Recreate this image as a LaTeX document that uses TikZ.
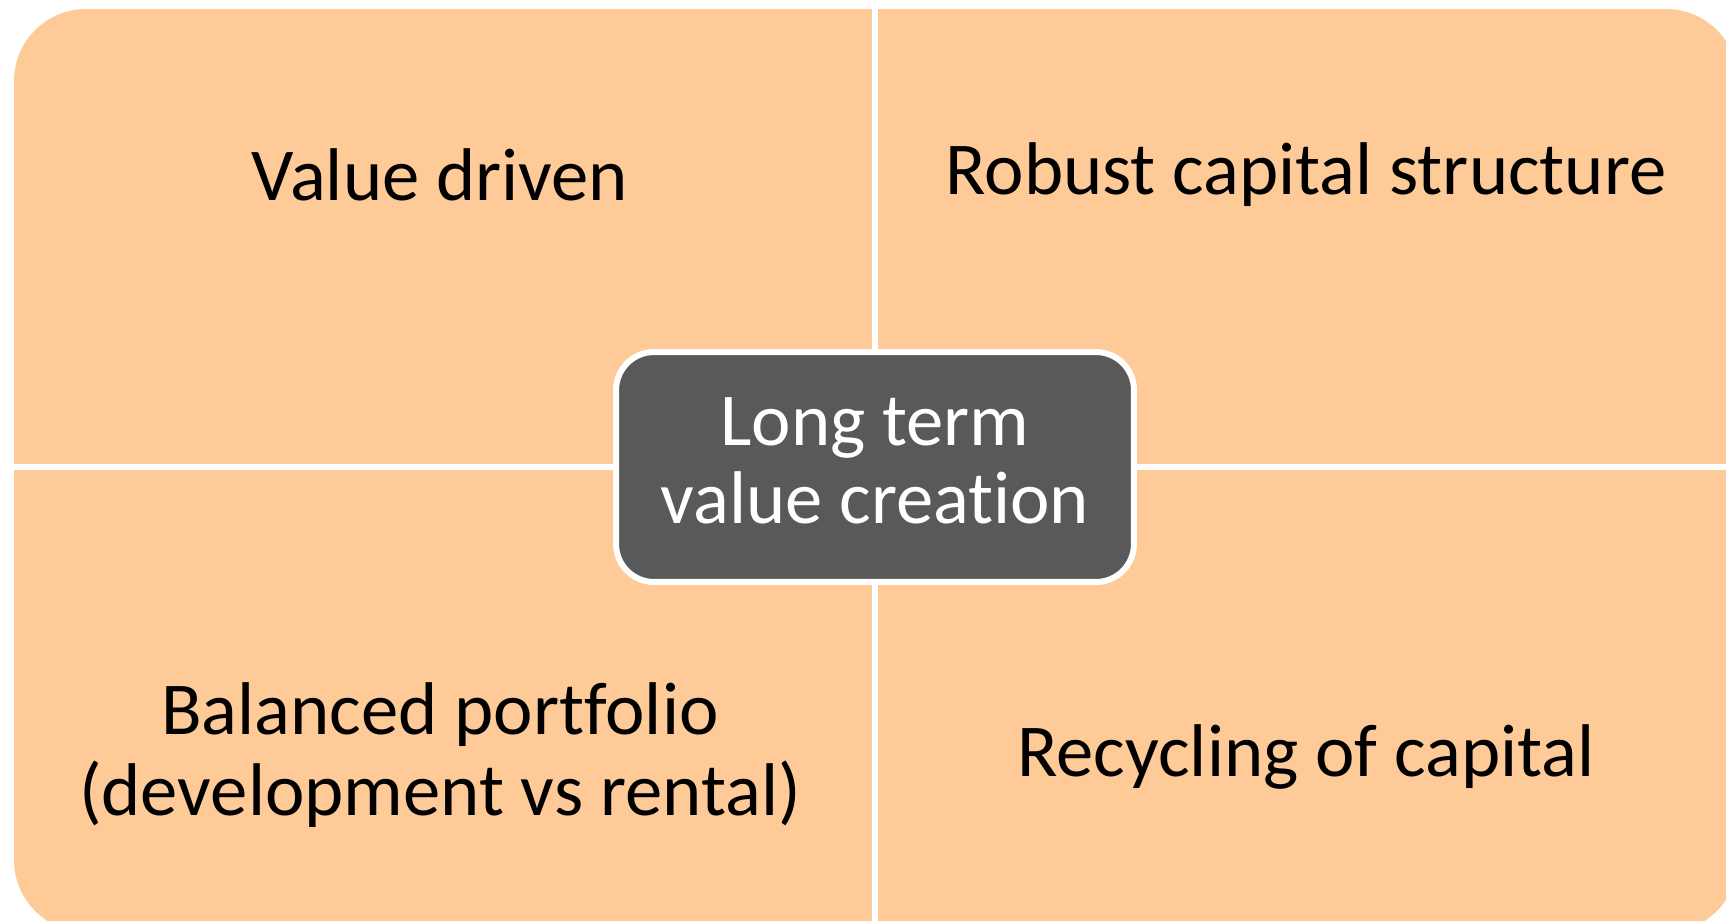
\documentclass[tikz,border=0pt]{standalone}
\usepackage{fontspec}
\setmainfont{Carlito}[Ligatures=CommonOff]
\usetikzlibrary{positioning}

\definecolor{peach}{HTML}{FDCA98}
\definecolor{hubgray}{HTML}{595959}

\begin{document}
\begin{tikzpicture}[
			x=0.02cm, y=-0.02cm,
			quad/.style={
				fill=peach
			},
			divider/.style={
				draw=white,
				line width=0.115cm
			},
			label/.style={
				align=center,
				text=black,
				font=\fontsize{42.5}{46}\selectfont
			},
			hub/.style={
				rectangle,
				draw=white,
				fill=hubgray,
				line width=0.12cm,
				rounded corners=0.76cm,
				minimum width=10.36cm,
				minimum height=4.6cm
			},
			hubtext/.style={
				align=center,
				text=white,
				font=\fontsize{42.5}{44.5}\selectfont
			}
			]
			
			\useasboundingbox (0,0) rectangle (1726,920);
			\clip (0,0) rectangle (1726,920);
			
			% Background of the four quadrants
			\fill[quad, rounded corners=1.44cm] (14,9) rectangle (1738,932);
			
			% Dividers between the quadrants
			\coordinate (top) at (875,0);
			\coordinate (bottom) at (875,940);
			\coordinate (left) at (0,467);
			\coordinate (right) at (1760,467);
			\draw[divider] (top) -- (bottom);
			\draw[divider] (left) -- (right);
			
			% Quadrant labels
			\node[label] (value) at (440,175) {Value driven};
			\node[label] (capital) at (1306,175) {Robust capital structure};
			\node[label] (portfolio) at (440,755) {Balanced portfolio\\(development vs rental)};
			\node[label] (recycling) at (1306,757) {Recycling of capital};
			
			% Centre block
			\node[hub] (core) at (875,467) {};
			\node[hubtext, yshift=0.12cm] (coretext) at (core.center) {Long term\\value creation};
			
		\end{tikzpicture}
\end{document}
